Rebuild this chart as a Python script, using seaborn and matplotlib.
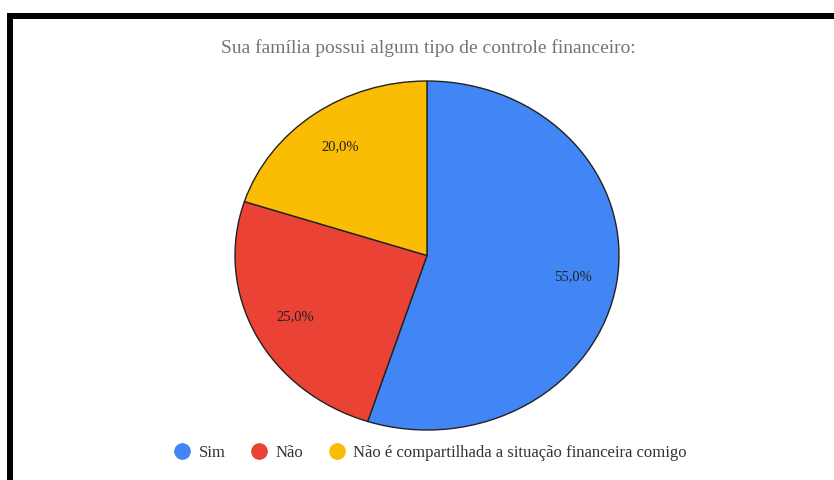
import matplotlib
matplotlib.use("Agg")
import matplotlib.pyplot as plt
from matplotlib.lines import Line2D
from matplotlib.patches import Rectangle
import seaborn as sns

title = "Sua família possui algum tipo de controle financeiro:"
categories = ["Sim", "Não", "Não é compartilhada a situação financeira comigo"]
values = [55.0, 25.0, 20.0]
colors = ["#4285F4", "#EA4335", "#FBBC04"]

sns.set_theme(style="white")
plt.rcParams["font.family"] = ["Liberation Serif", "DejaVu Serif"]

W, H = 834, 480
fig = plt.figure(figsize=(W / 100, H / 100), dpi=100)
fig.patch.set_facecolor("white")

# pie axes spanning pixel box (235..619, 81..430)
l, r, t, b = 235, 619, 81, 430
ax = fig.add_axes([l / W, 1 - b / H, (r - l) / W, (b - t) / H])

def fmt(p):
    return f"{p:.1f}".replace(".", ",") + "%"

wedges, texts, autotexts = ax.pie(
    values, colors=colors, startangle=90, counterclock=False,
    autopct=fmt, pctdistance=0.77,
    wedgeprops=dict(edgecolor="#222222", linewidth=1.0),
    textprops=dict(fontsize=10.5, color="#222222"),
)
for w in wedges:
    w.set_clip_on(False)
ax.set_aspect("auto")
ax.set_xlim(-1, 1)
ax.set_ylim(-1, 1)
ax.axis("off")

fig.text(428 / W, 1 - 48 / H, title, ha="center", va="center",
         fontsize=14, color="#757575")

handles = [Line2D([0], [0], marker="o", linestyle="none", markersize=11,
                  markerfacecolor=c, markeredgecolor=c) for c in colors]
fig.legend(handles, categories, loc="center", bbox_to_anchor=(431 / W, 1 - 453 / H),
           ncol=3, frameon=False, fontsize=12, handlelength=0.8,
           handletextpad=0.6, columnspacing=1.6, labelcolor="#333333")

# black frame (left and top visible)
fig.patches.append(Rectangle((10 / W, -0.2), 1.2, (H - 16) / H + 0.2,
                             transform=fig.transFigure, fill=False,
                             edgecolor="black", linewidth=4.3, zorder=10))

fig.savefig("out.png", dpi=100)
